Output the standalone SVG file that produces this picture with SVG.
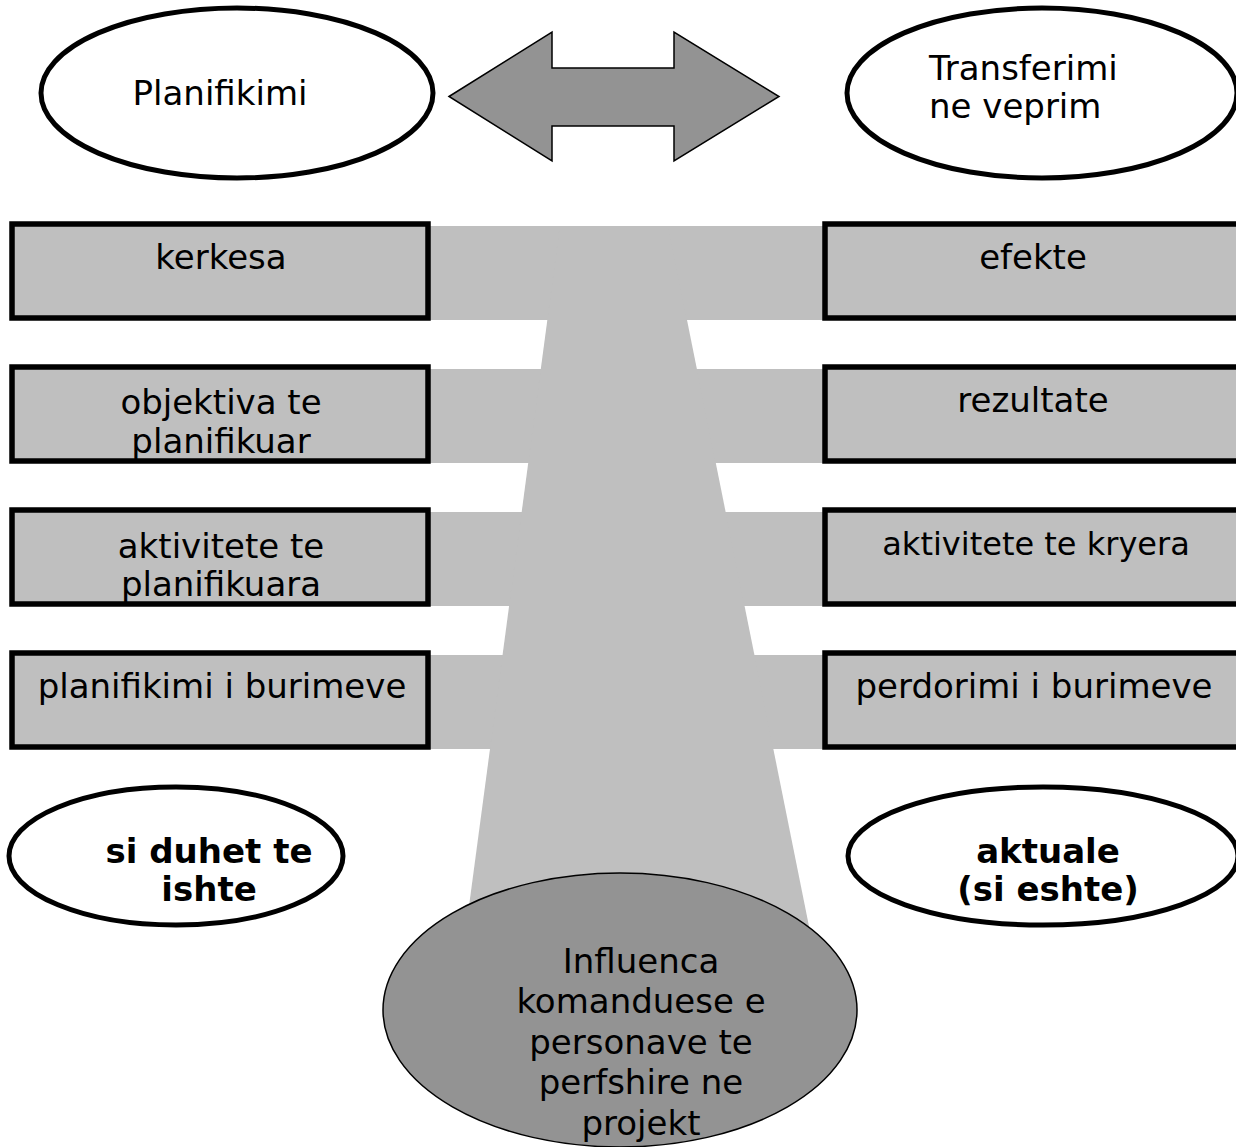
<svg xmlns="http://www.w3.org/2000/svg" width="1236" height="1147" viewBox="0 0 1236 1147">
<style>
  text { font-family: "DejaVu Sans", Verdana, sans-serif; font-size: 34px; fill: #000; }
  .c { text-anchor: middle; }
  .b { font-weight: bold; }
  .sm { font-size: 32px; }
  .box { fill: #BFBFBF; stroke: #000; stroke-width: 5.5; }
  .oval { fill: #FFFFFF; stroke: #000; stroke-width: 5; }
  .bg { fill: #BFBFBF; }
  .dark { fill: #939393; stroke: #000; stroke-width: 1.5; }
</style>
<rect x="0" y="0" width="1236" height="1147" fill="#FFFFFF"/>

<g id="funnel">
  <rect class="bg" x="12" y="226" width="1229" height="94"/>
  <rect class="bg" x="12" y="369" width="1229" height="94"/>
  <rect class="bg" x="12" y="512" width="1229" height="94"/>
  <rect class="bg" x="12" y="655" width="1229" height="94"/>
  <polygon class="bg" points="559.9,226 668.1,226 815.8,960 461.8,960"/>
</g>

<g id="connectors">
  <polygon class="dark" points="449,96.5 552,32 552,68 674,68 674,32 779,96.5 674,161 674,126 552,126 552,161"/>
</g>

<g id="planifikimi">
  <ellipse class="oval" cx="237" cy="93" rx="196" ry="85"/>
  <text class="c" x="220" y="105">Planifikimi</text>
</g>

<g id="transferimi">
  <ellipse class="oval" cx="1042" cy="93" rx="195" ry="85"/>
  <text x="929" y="80">Transferimi</text>
  <text x="929" y="118">ne veprim</text>
</g>

<g id="kerkesa">
  <rect class="box" x="12" y="224" width="416" height="94"/>
  <text class="c" x="221" y="269">kerkesa</text>
</g>
<g id="efekte">
  <rect class="box" x="825" y="224" width="416" height="94"/>
  <text class="c" x="1033" y="269">efekte</text>
</g>

<g id="objektiva">
  <rect class="box" x="12" y="367" width="416" height="94"/>
  <text class="c" x="221" y="414">objektiva te</text>
  <text class="c" x="221" y="453">planifikuar</text>
</g>
<g id="rezultate">
  <rect class="box" x="825" y="367" width="416" height="94"/>
  <text class="c" x="1033" y="412">rezultate</text>
</g>

<g id="aktivitete-plan">
  <rect class="box" x="12" y="510" width="416" height="94"/>
  <text class="c" x="221" y="558">aktivitete te</text>
  <text class="c" x="221" y="596">planifikuara</text>
</g>
<g id="aktivitete-kryera">
  <rect class="box" x="825" y="510" width="416" height="94"/>
  <text class="c sm" x="1036" y="555">aktivitete te kryera</text>
</g>

<g id="planifikimi-burimeve">
  <rect class="box" x="12" y="653" width="416" height="94"/>
  <text class="c" x="222" y="698">planifikimi i burimeve</text>
</g>
<g id="perdorimi-burimeve">
  <rect class="box" x="825" y="653" width="416" height="94"/>
  <text class="c" x="1034" y="698">perdorimi i burimeve</text>
</g>

<g id="si-duhet">
  <ellipse class="oval" cx="176" cy="856" rx="167" ry="69"/>
  <text class="c b" x="209" y="863">si duhet te</text>
  <text class="c b" x="209" y="901">ishte</text>
</g>

<g id="aktuale">
  <ellipse class="oval" cx="1043" cy="856" rx="195" ry="69"/>
  <text class="c b" x="1048" y="863">aktuale</text>
  <text class="c b" x="1048" y="901">(si eshte)</text>
</g>

<g id="influenca">
  <ellipse class="dark" cx="620" cy="1010" rx="237" ry="137"/>
  <text class="c" x="641" y="973">Influenca</text>
  <text class="c" x="641" y="1013">komanduese e</text>
  <text class="c" x="641" y="1054">personave te</text>
  <text class="c" x="641" y="1094">perfshire ne</text>
  <text class="c" x="641" y="1135">projekt</text>
</g>
</svg>
